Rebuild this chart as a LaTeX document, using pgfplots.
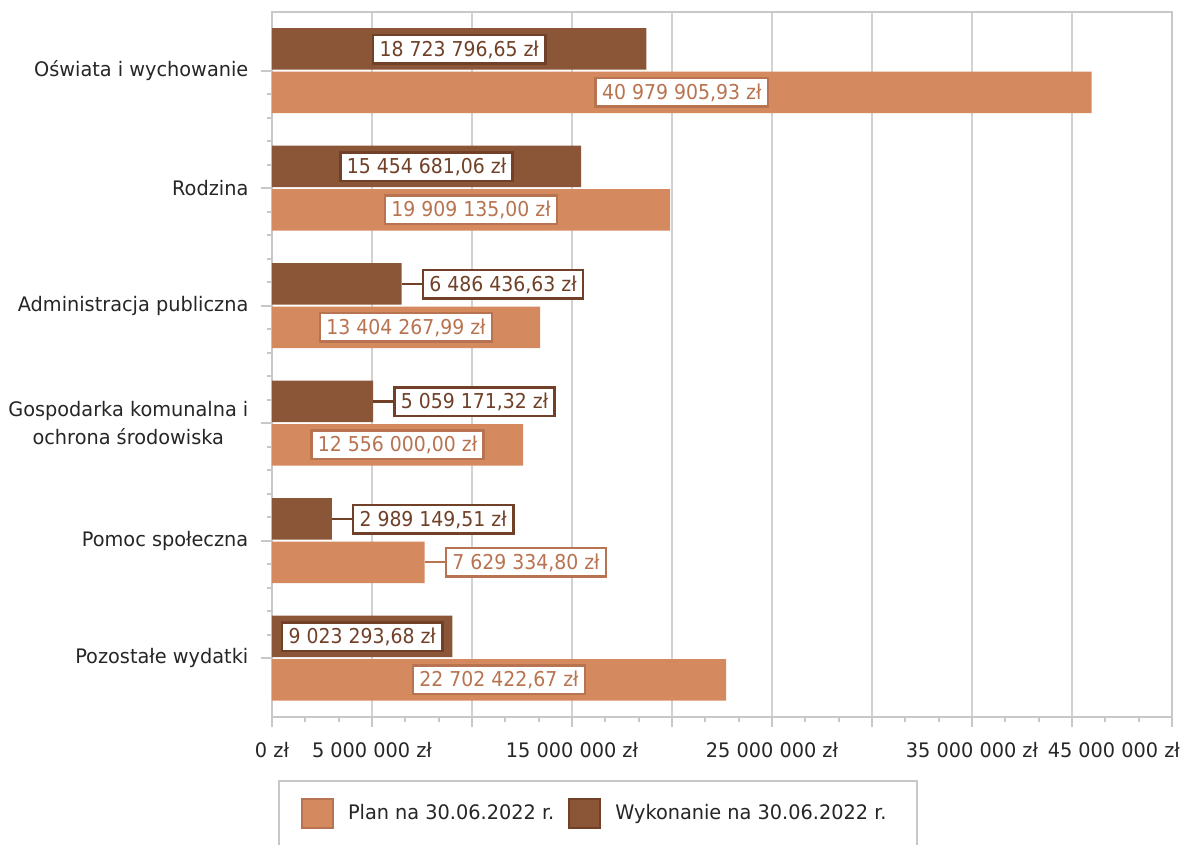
\documentclass[border=0pt]{standalone}
\usepackage{fontspec}
\setmainfont{DejaVu Sans}[FakeStretch=0.965]
\newfontfamily\lblfont{DejaVu Sans}[FakeStretch=0.92]
\usepackage{pgfplots}
\pgfplotsset{compat=1.18}
\definecolor{planfill}{RGB}{213,137,94}
\definecolor{planline}{RGB}{184,115,80}
\definecolor{wykfill}{RGB}{139,86,56}
\definecolor{wykline}{RGB}{112,65,40}
\definecolor{gridgray}{RGB}{210,210,210}
\definecolor{axgray}{RGB}{200,200,200}
\definecolor{txt}{RGB}{38,38,38}
\pgfplotsset{
  lblbase/.style={draw=none, forget plot, nodes near coords, point meta=explicit symbolic,
    every node near coord/.append style={fill=white, line width=2.5pt,
      font=\lblfont\fontsize{20.5pt}{22pt}\selectfont, inner xsep=6.5pt, inner ysep=6.5pt,
      text height=15pt, text depth=0.5pt}},
  lblwyk/.style={lblbase, every node near coord/.append style={draw=wykline, text=wykline, anchor=#1}},
  lblplan/.style={lblbase, every node near coord/.append style={draw=planline, text=planline, anchor=#1}},
}
\begin{document}
\fontsize{20pt}{24pt}\selectfont
\begin{tikzpicture}
\begin{axis}[
  at={(272pt,128pt)}, anchor=south west,
  scale only axis, width=900pt, height=705pt,
  xmin=0, xmax=45000000, ymin=-0.5, ymax=5.5,
  scaled x ticks=false,
  xtick={0,5000000,10000000,15000000,20000000,25000000,30000000,35000000,40000000,45000000},
  xticklabels={0 zł, 5 000 000 zł, , 15 000 000 zł, , 25 000 000 zł, , 35 000 000 zł, , {\makebox[0pt][r]{45 000 000 zł\kern-8pt}}},
  ytick={0,1,2,3,4,5},
  yticklabels={Pozostałe wydatki, Pomoc społeczna, {Gospodarka komunalna i\\ochrona środowiska}, Administracja publiczna, Rodzina, Oświata i wychowanie},
  minor x tick num=2, minor y tick num=4,
  tick pos=left, tick align=outside,
  major tick length=10.5pt, minor tick length=5pt,
  tick style={draw=axgray, line width=2pt},
  axis line style={draw=axgray, line width=2.5pt},
  xmajorgrids, major grid style={draw=gridgray, line width=2pt},
  ticklabel style={text=txt, inner sep=0pt},
  xticklabel style={yshift=-15pt},
  yticklabel style={align=center, font=\fontsize{20pt}{28.5pt}\selectfont, xshift=-13pt},
  /pgf/number format/assume math mode=true,
  legend style={at={(0.0067,-0.0894)}, anchor=north west, draw=axgray, line width=2pt,
    inner xsep=22pt, inner ysep=17pt, legend columns=2, text=txt,
    font=\fontsize{20pt}{24pt}\selectfont, nodes={inner sep=0pt},
    /tikz/every even column/.append style={column sep=14pt},
    /tikz/every odd column/.append style={column sep=14pt}},
]
\addplot[xbar, bar width=41.5pt, bar shift=-21.75pt, fill=planfill, draw=none,
  legend image code/.code={\draw[fill=planfill, draw=planline, line width=2pt] (0pt,-14.5pt) rectangle (31pt,14.5pt);}]
  coordinates {(22702422.67,0) (7629334.80,1) (12556000.00,2) (13404267.99,3) (19909135.00,4) (40979905.93,5)};
\addlegendentry{Plan na 30.06.2022 r.}
\addplot[xbar, bar width=41.5pt, bar shift=21.75pt, fill=wykfill, draw=none,
  legend image code/.code={\draw[fill=wykfill, draw=wykline, line width=2pt] (0pt,-14.5pt) rectangle (31pt,14.5pt);}]
  coordinates {(9023293.68,0) (2989149.51,1) (5059171.32,2) (6486436.63,3) (15454681.06,4) (18723796.65,5)};
\addlegendentry{Wykonanie na 30.06.2022 r.\kern8pt\rule{0pt}{1pt}}
% leader lines
\addplot[wykline, line width=2.5pt, forget plot] coordinates {(6486436.63,3.183) (7486436.63,3.183)};
\addplot[wykline, line width=2.5pt, forget plot] coordinates {(5059171.32,2.183) (6059171.32,2.183)};
\addplot[wykline, line width=2.5pt, forget plot] coordinates {(2989149.51,1.183) (3989149.51,1.183)};
\addplot[planline, line width=2.5pt, forget plot] coordinates {(7629334.80,0.817) (8629334.80,0.817)};
% labels
\addplot[lblwyk=center] coordinates {(9361898.33,5.183) [18 723 796,65 zł] (7727340.53,4.183) [15 454 681,06 zł] (4511646.84,0.183) [9 023 293,68 zł]};
\addplot[lblwyk=west] coordinates {(7486436.63,3.183) [6 486 436,63 zł] (6059171.32,2.183) [5 059 171,32 zł] (3989149.51,1.183) [2 989 149,51 zł]};
\addplot[lblplan=center] coordinates {(20489952.97,4.817) [40 979 905,93 zł] (9954567.5,3.817) [19 909 135,00 zł] (6702134.0,2.817) [13 404 267,99 zł] (6278000,1.817) [12 556 000,00 zł] (11351211.34,-0.183) [22 702 422,67 zł]};
\addplot[lblplan=west] coordinates {(8629334.80,0.817) [7 629 334,80 zł]};
\end{axis}
\pgfresetboundingbox
\path[use as bounding box] (0,0) rectangle (1184pt,845pt);
\end{tikzpicture}
\end{document}
